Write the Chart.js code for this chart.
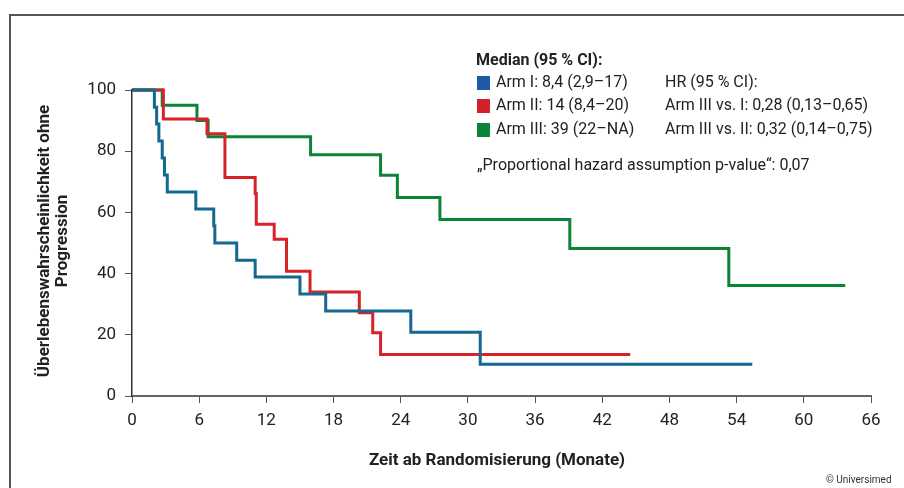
<!DOCTYPE html>
<html>
<head>
<meta charset="utf-8">
<script src="https://cdn.jsdelivr.net/npm/chart.js@4"></script>
<style>
  html, body { margin: 0; padding: 0; background: #fff; }
  #wrap { position: relative; width: 904px; height: 488px; overflow: hidden; }
  #frame { position: absolute; left: 9px; top: 14px; width: 1000px; height: 1000px; border: 2px solid #555; box-sizing: border-box; }
  canvas { position: absolute; left: 0; top: 0; }
</style>
</head>
<body>
<div id="wrap">
  <div id="frame"></div>
  <canvas id="km" width="904" height="488"></canvas>
</div>
<script>
// Kaplan-Meier steps (months, % progression-free)
const monthsArm1 = [0, 2.0, 2.2, 2.4, 2.7, 2.9, 3.15, 5.7, 7.3, 7.4, 9.35, 11.0, 15.0, 17.3, 24.9, 31.1, 55.4];
const survArm1   = [100, 94.4, 88.9, 83.3, 77.8, 72.2, 66.7, 61.1, 55.6, 50.0, 44.4, 38.9, 33.3, 27.8, 20.8, 10.4, 10.4];

const monthsArm2 = [0, 2.8, 6.7, 8.3, 11.0, 11.1, 12.7, 13.8, 15.9, 20.3, 21.5, 22.2, 44.5];
const survArm2   = [100, 90.5, 85.7, 71.4, 66.2, 56.1, 51.2, 40.8, 34.0, 27.2, 20.7, 13.6, 13.6];

const monthsArm3 = [0, 2.7, 5.8, 6.8, 15.95, 22.2, 23.7, 27.5, 39.1, 53.3, 63.7];
const survArm3   = [100, 95.0, 90.0, 84.7, 78.8, 72.1, 64.9, 57.7, 48.2, 36.1, 36.1];

const xTicks = [0, 6, 12, 18, 24, 30, 36, 42, 48, 54, 60, 66];
const yTicks = [0, 20, 40, 60, 80, 100];

const armLabels = ['Arm I: 8,4 (2,9–17)', 'Arm II: 14 (8,4–20)', 'Arm III: 39 (22–NA)'];
const hrLabels = ['HR (95 % CI):', 'Arm III vs. I: 0,28 (0,13–0,65)', 'Arm III vs. II: 0,32 (0,14–0,75)'];
const lineColors = ['#13698f', '#d62329', '#0b8336'];
const keyColors = ['#1d5aa6', '#d42027', '#0a8438'];

const FONT = 'Roboto, "Liberation Sans", sans-serif';

function toPoints(xs, ys) {
    return xs.map((x, i) => ({ x: x, y: ys[i] }));
}

// Text around the plot: legend block, axis titles, credit
const textPlugin = {
    id: 'texts',
    afterDraw(chart) {
        const ctx = chart.ctx;
        ctx.save();
        ctx.fillStyle = '#222';
        ctx.textBaseline = 'middle';
        ctx.textAlign = 'left';

        ctx.font = 'bold 16px ' + FONT;
        ctx.fillText('Median (95 % CI):', 476, 61);

        ctx.font = '16px ' + FONT;
        const rowsY = [83, 106, 130];
        armLabels.forEach((txt, i) => {
            ctx.fillStyle = keyColors[i];
            ctx.fillRect(477, rowsY[i] - 7, 13, 14);
            ctx.fillStyle = '#222';
            ctx.fillText(txt, 496, rowsY[i]);
            ctx.fillText(hrLabels[i], 665, rowsY[i]);
        });
        ctx.fillText('„Proportional hazard assumption p-value“: 0,07', 477, 166);

        // x title
        ctx.font = 'bold 17px ' + FONT;
        ctx.textAlign = 'center';
        ctx.fillText('Zeit ab Randomisierung (Monate)', 497, 461);

        // y title, two lines
        ctx.save();
        ctx.translate(45, 241);
        ctx.rotate(-Math.PI / 2);
        ctx.font = 'bold 17px ' + FONT;
        ctx.fillText('Überlebenswahrscheinlichkeit ohne', 0, 0);
        ctx.fillText('Progression', 0, 18);
        ctx.restore();

        ctx.font = '10px ' + FONT;
        ctx.textAlign = 'left';
        ctx.fillStyle = '#333';
        ctx.fillText('© Universimed', 826, 480);
        ctx.restore();
    }
};

const ctx = document.getElementById('km').getContext('2d');
new Chart(ctx, {
    type: 'line',
    data: {
        datasets: [
            { data: toPoints(monthsArm1, survArm1), borderColor: lineColors[0] },
            { data: toPoints(monthsArm2, survArm2), borderColor: lineColors[1] },
            { data: toPoints(monthsArm3, survArm3), borderColor: lineColors[2] }
        ].map(ds => Object.assign(ds, {
            stepped: 'before',
            borderWidth: 3,
            pointRadius: 0,
            fill: false,
            clip: false
        }))
    },
    options: {
        responsive: false,
        animation: false,
        layout: { padding: { left: 0, top: 90, right: 33, bottom: 0 } },
        plugins: { legend: { display: false }, tooltip: { enabled: false } },
        scales: {
            x: {
                type: 'linear',
                min: 0,
                max: 66,
                afterBuildTicks: s => { s.ticks = xTicks.map(v => ({ value: v })); },
                afterFit: s => { s.height = 92; },
                grid: { drawOnChartArea: false, drawTicks: true, tickLength: 7, color: '#555' },
                border: { display: true, color: '#666', width: 2 },
                ticks: { color: '#222', font: { family: FONT, size: 17 }, padding: 8, maxRotation: 0 }
            },
            y: {
                min: 0,
                max: 100,
                afterBuildTicks: s => { s.ticks = yTicks.map(v => ({ value: v })); },
                afterFit: s => { s.width = 132; },
                grid: { drawOnChartArea: false, drawTicks: true, tickLength: 7, color: '#555' },
                border: { display: true, color: '#333', width: 1.5 },
                ticks: { color: '#222', font: { family: FONT, size: 17 }, padding: 9 }
            }
        }
    },
    plugins: [textPlugin]
});
</script>
</body>
</html>
